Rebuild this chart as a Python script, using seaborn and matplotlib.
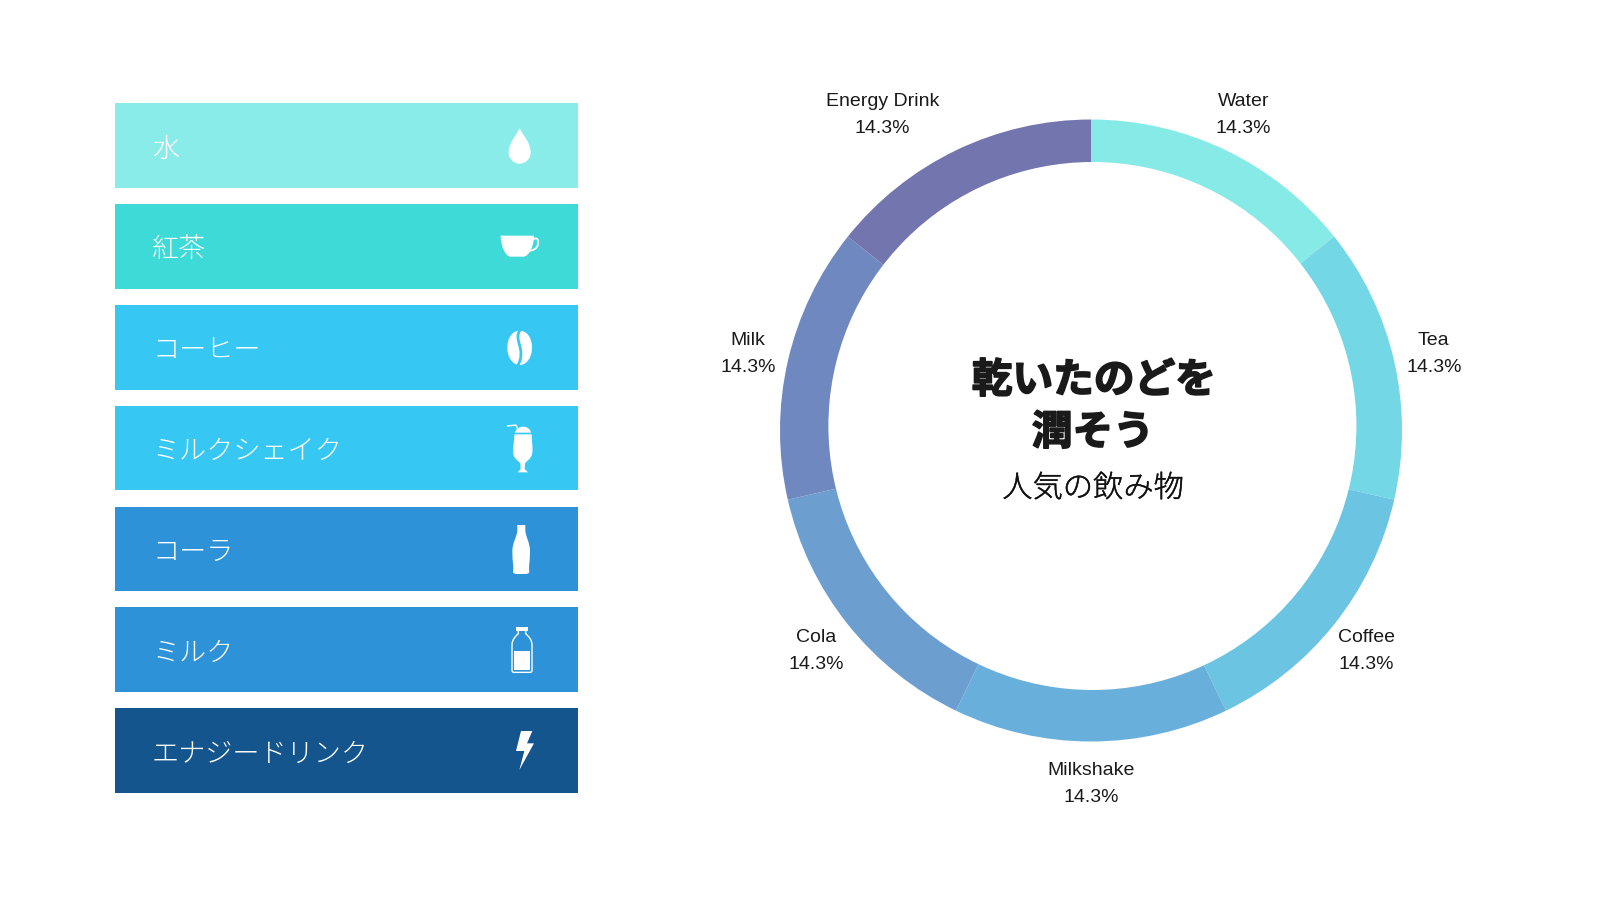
import pandas as pd
import matplotlib.pyplot as plt
import matplotlib.patheffects as pe
from matplotlib.patches import Circle, PathPatch
from matplotlib.path import Path
import seaborn as sns

# Data
labels_ja = ['水', '紅茶', 'コーヒー', 'ミルクシェイク', 'コーラ', 'ミルク', 'エナジードリンク']
bar_colors = ['#8AECE8', '#3EDAD8', '#36C8F2', '#36C8F2', '#2D92D8', '#2D92D8', '#14558D']
labels_en = ['Water', 'Tea', 'Coffee', 'Milkshake', 'Cola', 'Milk', 'Energy Drink']
shares = [14.3, 14.3, 14.3, 14.3, 14.3, 14.3, 14.3]
ring_colors = ['#86EAE6', '#73D7E6', '#6CC4E3', '#68B0DB', '#6C9FD0', '#6F88C0', '#7375AE']
bar_lengths = [1, 1, 1, 1, 1, 1, 1]

sns.set_theme(style='white')
plt.rcParams['font.family'] = ['Noto Sans CJK JP', 'DejaVu Sans']

W, H = 1600, 900
fig = plt.figure(figsize=(16, 9), dpi=100, facecolor='white')


def px_axes(x0, y0, x1, y1, **kw):
    return fig.add_axes([x0 / W, 1 - y1 / H, (x1 - x0) / W, (y1 - y0) / H], **kw)


# Left list of drinks
ax_bar = px_axes(115, 95.1, 578, 801)
df = pd.DataFrame({'name': labels_ja, 'length': bar_lengths})
sns.barplot(data=df, y='name', x='length', hue='name', palette=dict(zip(labels_ja, bar_colors)),
            width=0.84, legend=False, saturation=1, linewidth=0, ax=ax_bar)
ax_bar.set_xlim(0, 1)
ax_bar.set_ylim(6.5, -0.5)
ax_bar.axis('off')
for i, name in enumerate(labels_ja):
    ax_bar.text(0.08, i + 0.03, name, color='white', fontsize=19.5, va='center', ha='left',
                fontweight='light')

# Donut
R = 311
scale = 1.3
ax_pie = px_axes(1091 - R * scale, 430.5 - R * scale, 1091 + R * scale, 430.5 + R * scale)
pie_labels = [f'{n}\n{v}%' for n, v in zip(labels_en, shares)]
wedges, texts = ax_pie.pie(shares, labels=pie_labels, colors=sns.color_palette(ring_colors),
                           startangle=90, counterclock=False, labeldistance=1.131,
                           wedgeprops={'linewidth': 0})
ax_pie.set_xlim(-scale, scale)
ax_pie.set_ylim(-scale, scale)
for t in texts:
    t.set(ha='center', va='center', fontsize=14, color='#1a1a1a',
          family=['Liberation Sans', 'DejaVu Sans'], linespacing=1.75)
    x, y = t.get_position()
    t.set_position((x, y - 1.5 / R))
# the label of the last slice sits further out
x, y = texts[-1].get_position()
texts[-1].set_position((x - 56 / R, y))

# Overlay in pixel coordinates: hole, centre text, icons
ov = px_axes(0, 0, W, H)
ov.set_xlim(0, W)
ov.set_ylim(H, 0)
ov.axis('off')
ov.patch.set_alpha(0)
ov.add_patch(Circle((1092.4, 426), 264, fc='white', ec='none'))

ov.text(1094, 381, '乾いたのどを', fontsize=29.3, fontweight='bold', color='#1a1a1a', ha='center',
        va='center', path_effects=[pe.withStroke(linewidth=1.2, foreground='#1a1a1a')])
ov.text(1093, 433, '潤そう', fontsize=29.3, fontweight='bold', color='#1a1a1a', ha='center',
        va='center', path_effects=[pe.withStroke(linewidth=1.2, foreground='#1a1a1a')])
ov.text(1093, 488, '人気の飲み物', fontsize=21.8, fontweight='light', color='#111111', ha='center',
        va='center', path_effects=[pe.withStroke(linewidth=0.3, foreground='#111111')])

M, L, C, Z = Path.MOVETO, Path.LINETO, Path.CURVE4, Path.CLOSEPOLY


def shape(y0, cmds, fc='white', ec='none', lw=0):
    # icon outlines are noted in 3x crop pixels, x from 470 and y from y0
    verts, codes = [], []
    for code, pts in cmds:
        for p in pts:
            verts.append((470 + p[0] / 3, y0 + p[1] / 3))
            codes.append(code)
    ov.add_patch(PathPatch(Path(verts, codes), fc=fc, ec=ec, lw=lw, capstyle='round'))


# drop
shape(100, [(M, [(149, 83)]),
            (C, [(156, 105), (182, 125), (182, 158)]),
            (C, [(182, 176), (167, 191), (149, 191)]),
            (C, [(131, 191), (116, 176), (116, 158)]),
            (C, [(116, 125), (142, 105), (149, 83)]),
            (Z, [(149, 83)])])
# cup
shape(100, [(M, [(92, 407)]), (L, [(192, 407)]),
            (C, [(192, 435), (178, 470), (160, 470)]), (L, [(122, 470)]),
            (C, [(105, 470), (92, 435), (92, 407)]), (Z, [(92, 407)])])
shape(100, [(M, [(190, 418)]), (C, [(200, 411), (206, 418), (204, 432)]),
            (C, [(202, 445), (190, 452), (178, 452)])], fc='none', ec='white', lw=1.3)
# bean
shape(100, [(M, [(149, 692)]),
            (C, [(172, 692), (186, 715), (186, 743)]),
            (C, [(186, 772), (170, 795), (149, 795)]),
            (C, [(128, 795), (112, 772), (112, 743)]),
            (C, [(112, 715), (126, 692), (149, 692)]), (Z, [(149, 692)])])
shape(100, [(M, [(152, 688)]), (C, [(126, 720), (172, 745), (143, 798)])],
      fc='none', ec=bar_colors[2], lw=2.0)
# shake
shape(395, [(M, [(133, 118)]), (L, [(185, 118)]),
            (C, [(185, 140), (190, 160), (186, 178)]),
            (C, [(181, 195), (168, 198), (165, 206)]), (L, [(164, 222)]), (L, [(174, 232)]),
            (L, [(143, 232)]), (L, [(152, 222)]), (L, [(151, 206)]),
            (C, [(148, 198), (134, 195), (130, 178)]),
            (C, [(127, 160), (133, 140), (133, 118)]), (Z, [(133, 118)])])
shape(395, [(M, [(135, 113)]), (C, [(140, 90), (178, 88), (183, 113)]), (Z, [(135, 113)])])
shape(395, [(M, [(112, 93)]), (L, [(137, 90)]), (L, [(147, 108)])], fc='none', ec='white', lw=1.0)
# cola
shape(395, [(M, [(142, 390)]), (L, [(166, 390)]), (L, [(166, 405)]),
            (C, [(166, 425), (180, 440), (180, 470)]),
            (C, [(180, 500), (175, 515), (178, 530)]),
            (C, [(178, 535), (172, 537), (165, 537)]), (L, [(142, 537)]),
            (C, [(135, 537), (129, 535), (129, 530)]),
            (C, [(132, 515), (127, 500), (127, 470)]),
            (C, [(127, 440), (142, 425), (142, 405)]), (Z, [(142, 390)])])
# milk bottle
shape(395, [(M, [(138, 695)]), (L, [(174, 695)]), (L, [(174, 707)]), (L, [(138, 707)]),
            (Z, [(138, 695)])])
shape(395, [(M, [(145, 707)]), (L, [(145, 716)]),
            (C, [(135, 725), (126, 735), (126, 750)]), (L, [(126, 825)]),
            (C, [(126, 830), (128, 832), (132, 832)]), (L, [(180, 832)]),
            (C, [(184, 832), (186, 830), (186, 825)]), (L, [(186, 750)]),
            (C, [(186, 735), (177, 725), (167, 716)]), (L, [(167, 707)])],
      fc='none', ec='white', lw=1.0)
shape(395, [(M, [(133, 768)]), (L, [(180, 768)]), (L, [(180, 825)]), (L, [(133, 825)]),
            (Z, [(133, 768)])])
# bolt
shape(395, [(M, [(153, 1008)]), (L, [(187, 1008)]), (L, [(171, 1045)]), (L, [(192, 1045)]),
            (L, [(148, 1125)]), (L, [(163, 1068)]), (L, [(138, 1068)]), (Z, [(153, 1008)])])

plt.savefig('out.png', dpi=100)
